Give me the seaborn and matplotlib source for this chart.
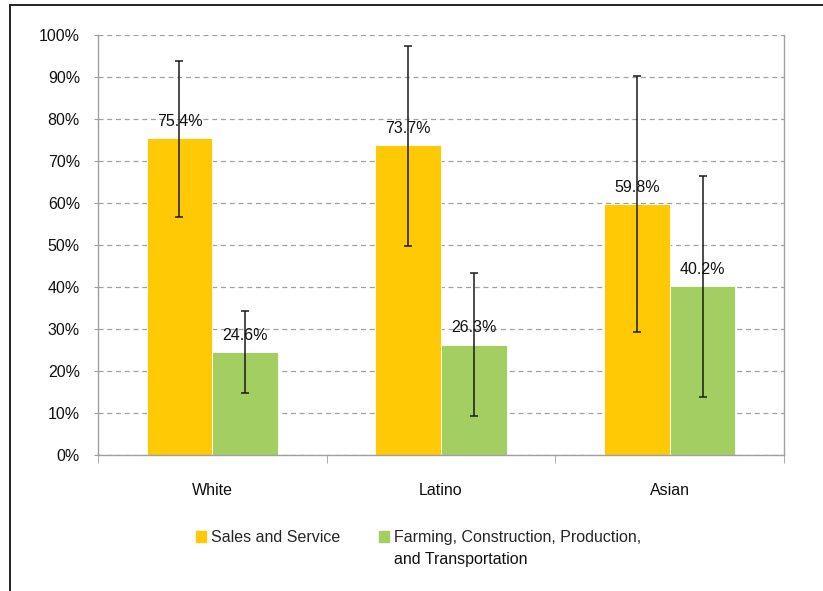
import pandas as pd
import numpy as np
import seaborn as sns
from matplotlib import pyplot as plt
from matplotlib.lines import Line2D
from matplotlib.ticker import FuncFormatter

# chart data (percent)
groups = ["White", "Latino", "Asian"]
occupations = ["Sales and Service",
               "Farming, Construction, Production,\nand Transportation"]
sales = [75.4, 73.7, 59.8]
farming = [24.6, 26.3, 40.2]
# error bar ends
sales_low = [56.7, 49.8, 29.4]
sales_high = [93.9, 97.4, 90.2]
farming_low = [14.8, 9.4, 13.8]
farming_high = [34.4, 43.3, 66.5]

colors = ["#FFC905", "#A3CF62"]

df = pd.DataFrame({
    "group": groups * 2,
    "occupation": [occupations[0]] * 3 + [occupations[1]] * 3,
    "value": sales + farming,
})
lows = [sales_low, farming_low]
highs = [sales_high, farming_high]

sns.set_style("white")
plt.rcParams['font.family'] = ['Liberation Sans', 'DejaVu Sans']

fig = plt.figure(figsize=(8.23, 5.91), dpi=100)
ax = fig.add_axes([98/823, 1-455/591, (784-98)/823, (455-35)/591])

sns.barplot(data=df, x="group", y="value", hue="occupation",
            palette=colors, width=0.575, errorbar=None, saturation=1,
            edgecolor="white", linewidth=0.6, legend=False, ax=ax)

# labels + asymmetric error bars on each bar
bar_conts = list(ax.containers)  # copy, errorbar() adds containers
for i, cont in enumerate(bar_conts):
    for j, bar in enumerate(cont):
        xc = bar.get_x() + bar.get_width() / 2
        h = bar.get_height()
        ax.errorbar(xc, h, yerr=[[h - lows[i][j]], [highs[i][j] - h]],
                    fmt="none", ecolor="#1a1a1a", elinewidth=1.1,
                    capsize=3, capthick=1.1, zorder=5)
        ax.annotate(f"{h:.1f}%", (xc, h), xytext=(0, 12),
                    textcoords="offset points", ha="center", va="center",
                    fontsize=11.5, color="#111111", zorder=6)

ax.set_ylim(0, 100)
ax.set_xlim(-0.5, 2.5)
ax.set_yticks(np.arange(0, 101, 10))
ax.yaxis.set_major_formatter(FuncFormatter(lambda v, p: f"{v:.0f}%"))
ax.grid(axis="y", color="#a0a0a0", linestyle=(0, (4, 3)), linewidth=0.9)
ax.set_axisbelow(True)
ax.set_xlabel("")
ax.set_ylabel("")

for s in ["left", "right", "bottom"]:
    ax.spines[s].set_visible(True)
    ax.spines[s].set_color("#a0a0a0")
    ax.spines[s].set_linewidth(1.0)
ax.spines["top"].set_visible(False)

ax.tick_params(axis="y", length=3, color="#a0a0a0", labelsize=11.5,
               labelcolor="#111111", left=True, pad=10)
ax.set_xticks([-0.5, 0.5, 1.5, 2.5], minor=True)
ax.tick_params(axis="x", which="major", length=0, pad=20, labelsize=11.5,
               labelcolor="#111111")
ax.tick_params(axis="x", which="minor", length=6, color="#a0a0a0",
               bottom=True)

# legend: handle sits on the first line of the long label, so the
# second line is written underneath as its own text
first_lines = [o.split("\n")[0] for o in occupations]
handles = [plt.Rectangle((0, 0), 1, 1, color=c) for c in colors]
leg = fig.legend(handles, first_lines, loc="upper left",
                 bbox_to_anchor=(188/823, 1-522/591), ncol=2, frameon=False,
                 fontsize=11.5, handlelength=0.65, handleheight=0.65,
                 handletextpad=0.3, columnspacing=2.4, borderpad=0)
fig.canvas.draw()
tb = leg.get_texts()[1].get_window_extent()
fig.text(tb.x0 / fig.bbox.width, (tb.y0 - 22) / fig.bbox.height,
         occupations[1].split("\n")[1], fontsize=11.5, color="#111111",
         ha="left", va="bottom")

# outer frame (top and left edges of the original box)
fig.add_artist(Line2D([10/823, 10/823], [0, 1-5/591], color="#222222",
                      lw=1.4, transform=fig.transFigure))
fig.add_artist(Line2D([10/823, 1], [1-5/591, 1-5/591], color="#222222",
                      lw=1.4, transform=fig.transFigure))

plt.savefig("out.png", dpi=100)
plt.close()
